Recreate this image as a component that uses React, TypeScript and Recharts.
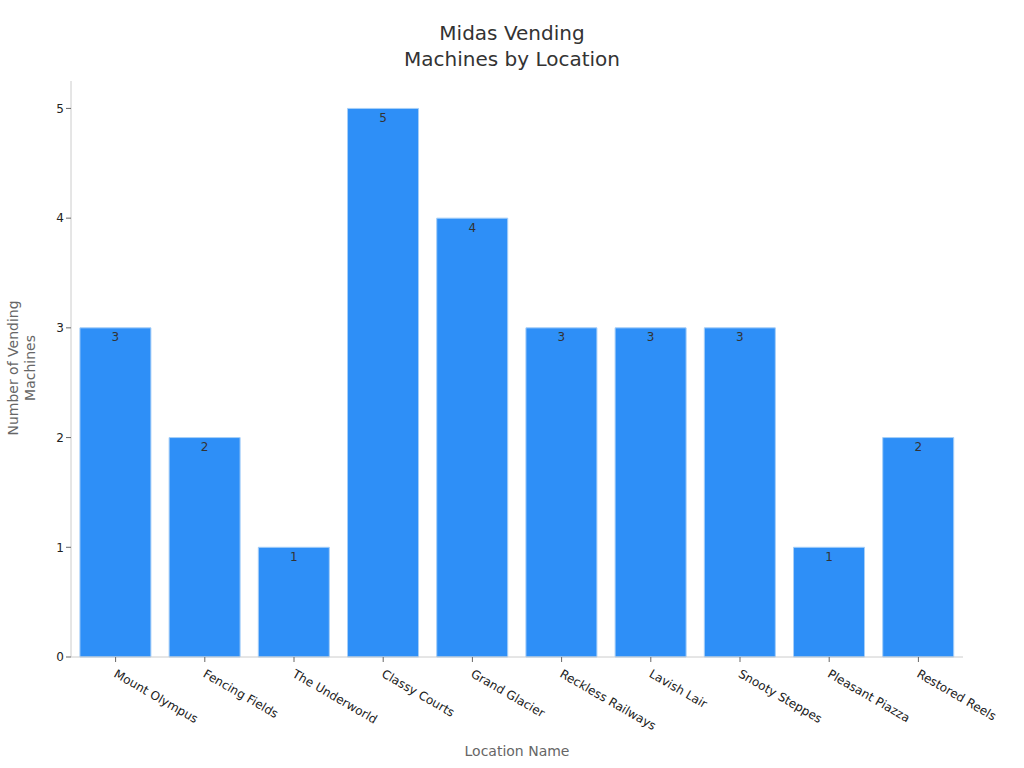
import { BarChart, Bar, XAxis, YAxis, LabelList } from "recharts";

const locations = [
  "Mount Olympus",
  "Fencing Fields",
  "The Underworld",
  "Classy Courts",
  "Grand Glacier",
  "Reckless Railways",
  "Lavish Lair",
  "Snooty Steppes",
  "Pleasant Piazza",
  "Restored Reels",
];
const machineCounts = [3, 2, 1, 5, 4, 3, 3, 3, 1, 2];
const yTicks = [0, 1, 2, 3, 4, 5];

const FONT = "'DejaVu Sans', sans-serif";

const data = locations.map((name, i) => ({ name, count: machineCounts[i] }));

function AngledTick(props: any) {
  const { x, y, payload } = props;
  return (
    <g transform={`translate(${x + 4},${y + 1})`}>
      <text
        x={0}
        y={0}
        dy={13}
        transform="rotate(30)"
        textAnchor="start"
        fill="#222"
        fontSize={12}
        fontFamily={FONT}
      >
        {payload.value}
      </text>
    </g>
  );
}

export default function App() {
  return (
    <div style={{ position: "absolute", left: 0, top: 0, width: 1024, height: 768, background: "#fff", fontFamily: FONT }}>
      <div
        style={{
          position: "absolute",
          left: 0,
          top: 20,
          width: 1024,
          textAlign: "center",
          fontSize: 20,
          lineHeight: "26px",
          color: "#333",
        }}
      >
        Midas Vending
        <br />
        Machines by Location
      </div>
      <BarChart
        width={1024}
        height={768}
        data={data}
        margin={{ top: 81, right: 61, bottom: 20, left: 31 }}
        barCategoryGap="10%"
      >
        <XAxis
          dataKey="name"
          interval={0}
          height={91}
          tick={<AngledTick />}
          tickSize={5}
          axisLine={{ stroke: "#ccc" }}
          tickLine={{ stroke: "#666" }}
          label={{
            value: "Location Name",
            position: "insideBottom",
            offset: -8,
            fill: "#666",
            fontSize: 14,
            fontFamily: FONT,
          }}
        />
        <YAxis
          width={40}
          domain={[0, 5.25]}
          ticks={yTicks}
          tickSize={5}
          axisLine={{ stroke: "#ccc" }}
          tickLine={{ stroke: "#666" }}
          tick={{ fill: "#222", fontSize: 12, fontFamily: FONT }}
          label={{
            content: () => (
              <text
                transform="translate(22,368) rotate(-90)"
                textAnchor="middle"
                fill="#666"
                fontSize={14}
                fontFamily={FONT}
              >
                <tspan x={0} dy={-4}>Number of Vending</tspan>
                <tspan x={0} dy={17}>Machines</tspan>
              </text>
            ),
          }}
        />
        <Bar dataKey="count" fill="#2e8ff7" stroke="#a6cff8" strokeWidth={1} isAnimationActive={false}>
          <LabelList
            dataKey="count"
            position="insideTop"
            fill="#333"
            fontSize={12}
            fontFamily={FONT}
          />
        </Bar>
      </BarChart>
    </div>
  );
}
